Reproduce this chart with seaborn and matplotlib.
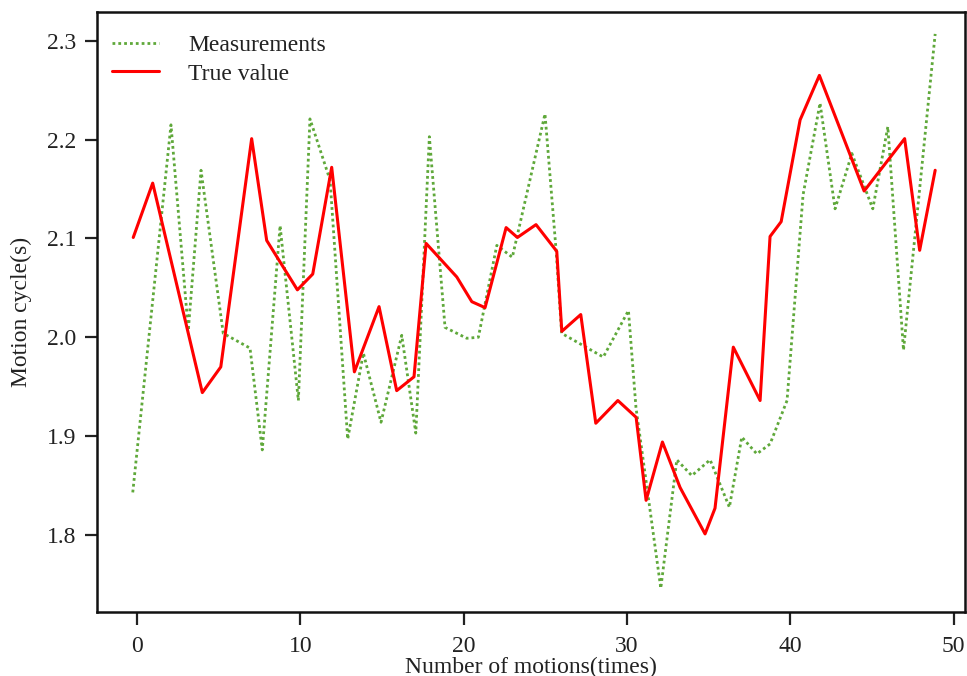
import numpy as np
import pandas as pd
import matplotlib
matplotlib.use("Agg")
import matplotlib.pyplot as plt
import seaborn as sns

meas_x = [-0.26, 2.08, 3.14, 3.92, 5.28, 6.92, 7.67, 8.76, 9.88, 10.59,
          11.82, 12.90, 13.86, 14.94, 16.21, 17.07, 17.90, 18.86, 20.19, 20.90,
          22.03, 22.98, 24.98, 25.66, 26.00, 28.55, 30.09, 30.55, 32.07, 33.05,
          33.97, 35.09, 36.27, 37.03, 37.95, 38.76, 39.80, 40.78, 41.82, 42.74,
          43.77, 45.05, 45.97, 46.93, 48.87]
meas_y = [1.843, 2.215, 2.007, 2.169, 2.004, 1.989, 1.886, 2.113, 1.936, 2.221,
          2.159, 1.897, 1.984, 1.914, 2.002, 1.903, 2.203, 2.010, 1.999, 2.000,
          2.093, 2.081, 2.226, 2.088, 2.004, 1.980, 2.027, 1.929, 1.746, 1.876,
          1.860, 1.876, 1.828, 1.899, 1.882, 1.892, 1.936, 2.144, 2.237, 2.130,
          2.186, 2.130, 2.213, 1.987, 2.307]

# True value (red solid)
true_x = [-0.23, 0.96, 4.00, 5.13, 7.02, 7.94, 9.82, 10.76, 11.92, 13.31,
          14.82, 15.90, 16.96, 17.70, 19.58, 20.50, 21.31, 22.60, 23.29, 24.43,
          25.70, 26.01, 27.17, 28.09, 29.44, 30.56, 31.17, 32.17, 33.25, 34.78,
          35.39, 36.51, 38.15, 38.76, 39.44, 40.60, 41.78, 44.52, 47.00, 47.92,
          48.87]
true_y = [2.101, 2.156, 1.944, 1.970, 2.201, 2.098, 2.048, 2.064, 2.172, 1.965,
          2.031, 1.946, 1.960, 2.095, 2.061, 2.036, 2.030, 2.111, 2.101, 2.114,
          2.087, 2.006, 2.023, 1.913, 1.936, 1.919, 1.835, 1.894, 1.848, 1.801,
          1.827, 1.990, 1.936, 2.102, 2.117, 2.220, 2.265, 2.148, 2.201, 2.088,
          2.169]

x_ticks = [0, 10, 20, 30, 40, 50]
y_ticks = [1.8, 1.9, 2.0, 2.1, 2.2, 2.3]

sns.set_style("ticks")
plt.rcParams['font.family'] = ['Liberation Serif', 'DejaVu Serif']
plt.rcParams['font.size'] = 17

meas_df = pd.DataFrame({'x': meas_x, 'y': meas_y})
true_df = pd.DataFrame({'x': true_x, 'y': true_y})

fig = plt.figure(figsize=(9.67, 6.76), dpi=100)
ax = fig.add_axes([0.1003, 0.0947, 0.8977, 0.8873])

sns.lineplot(data=meas_df, x='x', y='y', ax=ax, color='#5fa83a',
             linestyle=(0, (1, 1.1)), linewidth=2.0, label='Measurements', sort=False)
sns.lineplot(data=true_df, x='x', y='y', ax=ax, color='#ff0000', linestyle='-',
             linewidth=2.2, label='True value', sort=False)

ax.set_xlim(-2.45, 50.7)
ax.set_ylim(1.722, 2.329)
ax.set_xticks(x_ticks)
ax.set_yticks(y_ticks)
ax.set_xticklabels([str(t) for t in x_ticks])
ax.set_yticklabels([f"{t:.1f}" for t in y_ticks])
ax.tick_params(axis='both', direction='out', length=9, width=1.6, labelsize=17,
               colors='#222222', pad=6)
ax.tick_params(axis='x', pad=8)

for s in ax.spines.values():
    s.set_linewidth(1.8)
    s.set_color('#111111')

ax.set_xlabel('Number of motions(times)', fontsize=17, labelpad=0, color='#222222')
ax.set_ylabel('Motion cycle(s)', fontsize=17, labelpad=11, color='#222222')

leg = ax.legend(loc='upper left', bbox_to_anchor=(-0.009, 1.0), frameon=False,
                fontsize=17, handlelength=2.0, handletextpad=1.25,
                labelspacing=0.3, borderaxespad=0.55)
for t in leg.get_texts():
    t.set_color('#222222')

fig.savefig('out.png', dpi=100)
